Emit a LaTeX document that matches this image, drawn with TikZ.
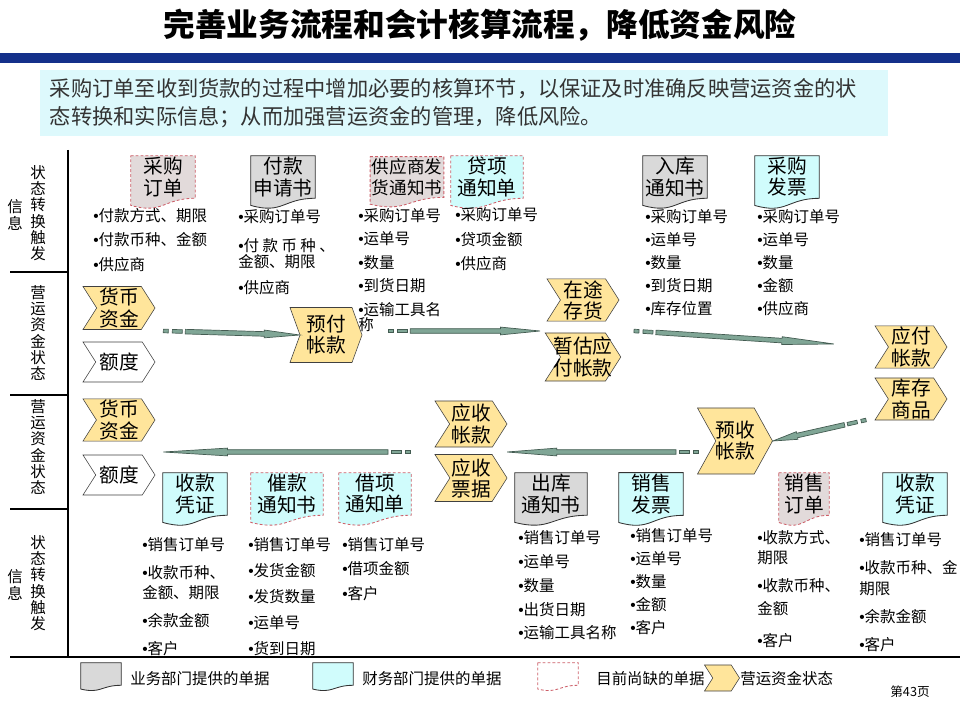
\documentclass[tikz,border=0pt]{standalone}
\usepackage{fontspec}
\setmainfont{Noto Sans CJK SC}
\newfontfamily\dotfont{Liberation Sans}
\usepackage{xcolor}
\usepackage{tikz}
\usetikzlibrary{shapes.symbols, arrows.meta, positioning, backgrounds, calc}

\definecolor{barblue}{RGB}{20,48,138}
\definecolor{introbg}{RGB}{221,249,252}
\definecolor{stateyellow}{RGB}{255,229,155}
\definecolor{docgray}{RGB}{217,217,217}
\definecolor{docpink}{RGB}{226,218,218}
\definecolor{doccyan}{RGB}{208,252,252}
\definecolor{missred}{RGB}{205,95,105}
\definecolor{pipefill}{RGB}{128,166,150}
\definecolor{pipedark}{RGB}{68,92,82}

\tikzset{
  state/.style  ={signal, signal from=west, signal to=east, signal pointer angle=115,
                  draw=black!75, fill=stateyellow, inner sep=1pt, align=center,
                  minimum width=1.8cm, minimum height=1.0cm,
                  font=\fontsize{14}{15}\selectfont},
  quota/.style  ={state, fill=white},
  doc/.style    ={rectangle, inner sep=1pt, align=center, minimum width=1.6cm,
                  minimum height=0.98cm, font=\fontsize{14}{15}\selectfont},
  bizdoc/.style ={fill=docgray, draw=black!80, line width=0.6pt},
  findoc/.style ={fill=doccyan, draw=black!80, line width=0.6pt},
  missbiz/.style={fill=docpink, draw=missred, line width=0.6pt, dash pattern=on 2pt off 1.5pt},
  missfin/.style={fill=doccyan, draw=missred, line width=0.6pt, dash pattern=on 2pt off 1.5pt},
  missdoc/.style={fill=white, draw=missred, line width=0.6pt, dash pattern=on 2pt off 1.5pt},
  items/.style  ={anchor=north west, align=left, inner sep=0pt,
                  font=\fontsize{11}{#1}\selectfont},
  items/.default=16.5,
  vlab/.style   ={align=center, inner sep=0pt, font=\fontsize{11}{11.6}\selectfont},
  frame/.style  ={line width=0.8pt, black},
  legend/.style ={anchor=west, inner sep=0pt, font=\fontsize{11}{13}\selectfont},
  pipe/.style   ={fill=pipefill, draw=pipedark, line width=0.5pt},
}

% narrow list bullet
\newcommand{\itm}{{\dotfont •}}

% document outline with a wavy bottom round a named node
\newcommand{\docframe}[2]{%
  \begin{scope}[on background layer]
    \path[#2] (#1.north west) -- (#1.north east) -- (#1.south east)
      .. controls (#1.south) and ($(#1.south)!-0.384!(#1.north)$)
      .. ($(#1.south west)!-0.167!(#1.north west)$) -- cycle;
  \end{scope}}

% dashed block arrow from #1 to #2
\newcommand{\pipearrow}[2]{%
  \path let \p1=(#1), \p2=(#2) in \pgfextra{%
    \pgfmathsetmacro{\pang}{atan2((\y2)-(\y1),(\x2)-(\x1))}%
    \pgfmathsetmacro{\plen}{veclen((\x2)-(\x1),(\y2)-(\y1))/0.71132}%
    \xdef\pipeang{\pang}\xdef\pipelen{\plen}};
  \begin{scope}[shift={(#1)}, rotate=\pipeang, x=0.025cm, y=0.025cm]
    \pgfmathsetmacro{\pipehead}{0.74*\pipelen}
    \filldraw[pipe] (0,-1.8) rectangle (5,1.8);
    \filldraw[pipe] (9,-1.8) rectangle (19,1.8);
    \filldraw[pipe] (22,-2.3) -- (\pipehead,-2.3) -- (\pipehead,-3.9) -- (\pipelen,0)
      -- (\pipehead,3.9) -- (\pipehead,2.3) -- (22,2.3) -- cycle;
  \end{scope}}

\begin{document}
\begin{tikzpicture}[x=0.025cm, y=-0.025cm]
  \useasboundingbox (0,0) rectangle (960,720);

  % ── Title ──────────────────────────────────────────────────────────
  \node[font=\fontsize{22.5}{24}\selectfont\bfseries] (title) at (480,25)
        {完善业务流程和会计核算流程，降低资金风险};
  \fill[barblue] (0,53) rectangle (960,63);
  \node[rectangle, fill=introbg, minimum width=21.2cm, minimum height=1.65cm,
        inner xsep=0.25cm, text width=20.7cm, align=left, text=black!80,
        font=\fontsize{15.1}{19.5}\selectfont] (intro) at (464,103)
        {采购订单至收到货款的过程中增加必要的核算环节，以保证及时准确反映营运资金的状\\态转换和实际信息；从而加强营运资金的管理，降低风险。};

  % ── Frame and row labels ───────────────────────────────────────────
  \draw[frame] (68,150) -- (68,657);
  \draw[frame] (10,657) -- (960,657);
  \draw[frame] (10,272) -- (68,272);
  \draw[frame] (10,395) -- (68,395);
  \draw[frame] (10,509) -- (68,509);

  \node[vlab] (lab1)  at (38,213) {状\\态\\转\\换\\触\\发};
  \node[vlab] (lab1b) at (15,215) {信\\息};
  \node[vlab] (lab2)  at (38,333) {营\\运\\资\\金\\状\\态};
  \node[vlab] (lab3)  at (38,447) {营\\运\\资\\金\\状\\态};
  \node[vlab] (lab4)  at (38,583) {状\\态\\转\\换\\触\\发};
  \node[vlab] (lab4b) at (15,585) {信\\息};

  % ── Purchase documents ─────────────────────────────────────────────
  \node[doc] (cgdd) at (163,177) {采购\\订单};
  \node[doc] (fksq) at (283,177) {付款\\申请书};
  \node[doc, minimum width=1.8cm, font=\fontsize{12.5}{15}\selectfont] (fhtz) at (407,177) {供应商发\\货通知书};
  \node[doc, minimum width=1.8cm] (dxtz) at (487,177) {贷项\\通知单};
  \node[doc] (rktz) at (675,177) {入库\\通知书};
  \node[doc] (cgfp) at (787,177) {采购\\发票};
  \docframe{cgdd}{missbiz} \docframe{fksq}{bizdoc} \docframe{fhtz}{missbiz}
  \docframe{dxtz}{missfin} \docframe{rktz}{bizdoc} \docframe{cgfp}{findoc}

  \node[items=17.4] (cgddI) at (93,208) {\itm 付款方式、期限\\\itm 付款币种、金额\\\itm 供应商};
  \node[items=10]   (fksqI) at (238,209) {\itm 采购订单号\\[9.9pt]\itm 付 款 币 种 、\\金额、期限\\[7pt]\itm 供应商};
  \node[items=16.7] (fhtzI) at (358,208) {\itm 采购订单号\\\itm 运单号\\\itm 数量\\\itm 到货日期\\\itm 运输工具名\\[-6pt]称};
  \node[items=17.6] (dxtzI) at (455,207) {\itm 采购订单号\\\itm 贷项金额\\\itm 供应商};
  \node[items=16.4] (rktzI) at (645,209) {\itm 采购订单号\\\itm 运单号\\\itm 数量\\\itm 到货日期\\\itm 库存位置};
  \node[items=16.4] (cgfpI) at (757,209) {\itm 采购订单号\\\itm 运单号\\\itm 数量\\\itm 金额\\\itm 供应商};

  % ── Working capital states, purchase side ──────────────────────────
  \node[state, minimum height=1.075cm] (huobiA) at (119,308) {货币\\资金};
  \node[quota] (eduA) at (119,362) {额度};
  \node[state, minimum height=1.375cm, signal pointer angle=140] (yufu) at (326,335) {预付\\帐款};
  \node[state] (zaitu) at (583,300) {在途\\存货};
  \node[state, minimum height=1.2cm, inner xsep=-5pt] (zangu) at (583,357) {暂估应\\付帐款};
  \node[state] (yingfu) at (911,347) {应付\\帐款};
  \node[state, minimum height=0.95cm] (kucun) at (911,399) {库存\\商品};

  % ── Working capital states, sales side ─────────────────────────────
  \node[state] (huobiB) at (119,420) {货币\\资金};
  \node[quota] (eduB) at (119,475) {额度};
  \node[state, minimum height=1.15cm] (yingshou) at (471,424) {应收\\帐款};
  \node[state, minimum height=1.175cm] (piaoju) at (471,478) {应收\\票据};
  \node[state, minimum width=1.875cm, minimum height=1.65cm, signal pointer angle=122,
        inner xsep=-1pt] (yushou) at (735,441) {预收\\帐款};

  \pipearrow{$(huobiA.east)+(8,23)$}{yufu.west}
  \pipearrow{$(yufu.east)+(26,-4)$}{$(zaitu.center)+(-43,31)$}
  \pipearrow{$(zaitu.center)+(51,31)$}{$(yingfu.center)+(-77,-3)$}
  \pipearrow{$(yingshou.center)+(-61,28)$}{$(huobiB.east)+(8,32)$}
  \pipearrow{$(yushou.center)+(-37,11)$}{$(yingshou.center)+(36,28)$}
  \pipearrow{$(kucun.center)+(-45,21)$}{yushou.east}

  % ── Sales documents ────────────────────────────────────────────────
  \node[doc, minimum height=0.95cm] (skpzA) at (195,494) {收款\\凭证};
  \node[doc, minimum height=0.95cm, minimum width=1.8cm] (cktz) at (287,494) {催款\\通知书};
  \node[doc, minimum height=0.95cm, minimum width=1.8cm] (jxtz) at (375,494) {借项\\通知单};
  \node[doc, minimum height=0.95cm, minimum width=1.8cm] (chtz) at (551,494) {出库\\通知书};
  \node[doc, minimum height=0.95cm] (xsfp) at (651,494) {销售\\发票};
  \node[doc, minimum height=0.95cm, minimum width=1.25cm] (xsdd) at (804,494) {销售\\订单};
  \node[doc, minimum height=0.95cm] (skpzB) at (915,494) {收款\\凭证};
  \docframe{skpzA}{findoc} \docframe{cktz}{missfin} \docframe{jxtz}{missfin}
  \docframe{chtz}{bizdoc} \docframe{xsfp}{findoc} \docframe{xsdd}{missbiz}
  \docframe{skpzB}{findoc}

  \node[items=14.2] (skpzAI) at (142,537) {\itm 销售订单号\\[5.7pt]\itm 收款币种、\\金额、期限\\[5.7pt]\itm 余款金额\\[5.7pt]\itm 客户};
  \node[items=18.5] (cktzI)  at (248,537) {\itm 销售订单号\\\itm 发货金额\\\itm 发货数量\\\itm 运单号\\\itm 货到日期};
  \node[items=17.4] (jxtzI)  at (342,537) {\itm 销售订单号\\\itm 借项金额\\\itm 客户};
  \node[items=17]   (chtzI)  at (518,530) {\itm 销售订单号\\\itm 运单号\\\itm 数量\\\itm 出货日期\\\itm 运输工具名称};
  \node[items=16.4] (xsfpI)  at (630,528) {\itm 销售订单号\\\itm 运单号\\\itm 数量\\\itm 金额\\\itm 客户};
  \node[items=14.2] (xsddI)  at (757,530) {\itm 收款方式、\\期限\\[5.7pt]\itm 收款币种、\\[2.2pt]金额\\[8.5pt]\itm 客户};
  \node[items=14.9] (skpzBI) at (859,532) {\itm 销售订单号\\[5pt]\itm 收款币种、金\\期限\\[5pt]\itm 余款金额\\[5pt]\itm 客户};

  % ── Legend ─────────────────────────────────────────────────────────
  \node[doc, minimum width=1.0cm, minimum height=0.55cm] (lgbiz) at (101,674) {};
  \node[doc, minimum width=1.0cm, minimum height=0.55cm] (lgfin) at (333,674) {};
  \node[doc, minimum width=1.0cm, minimum height=0.55cm] (lgmiss) at (558,674) {};
  \docframe{lgbiz}{bizdoc} \docframe{lgfin}{findoc} \docframe{lgmiss}{missdoc}
  \node[state, minimum width=0.875cm, minimum height=0.65cm] (lgstate) at (722,678) {};
  \node[legend] (lgbizT)   at (130,679) {业务部门提供的单据};
  \node[legend] (lgfinT)   at (362,679) {财务部门提供的单据};
  \node[legend] (lgmissT)  at (596,679) {目前尚缺的单据};
  \node[legend] (lgstateT) at (740,679) {营运资金状态};

  \node[font=\fontsize{9}{10}\selectfont] (page) at (910,692) {第43页};

\end{tikzpicture}
\end{document}
